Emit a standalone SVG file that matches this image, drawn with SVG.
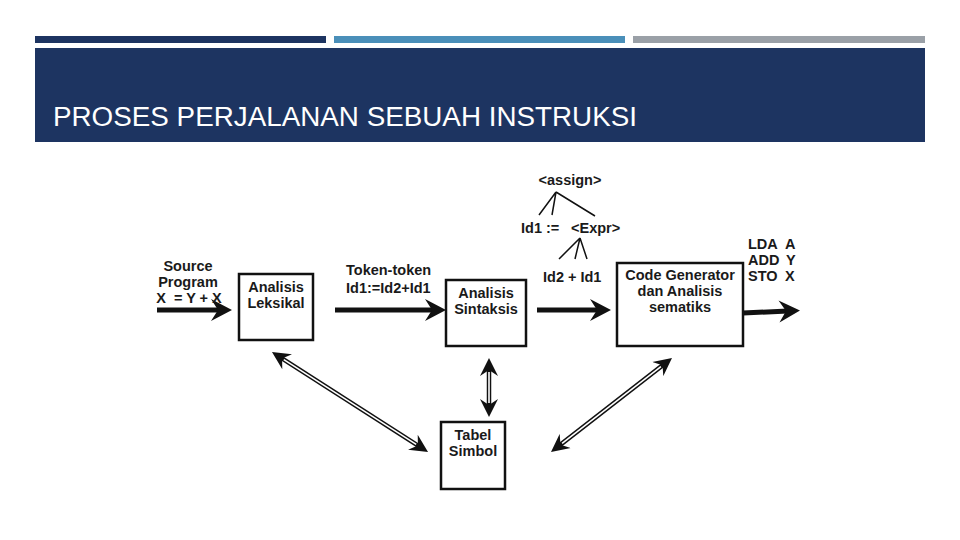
<svg xmlns="http://www.w3.org/2000/svg" width="960" height="540" viewBox="0 0 960 540">
<style>
.t{font-family:"Liberation Sans",Arial,sans-serif;font-weight:bold;font-size:14.5px;fill:#1a1a1a}
.c{text-anchor:middle}
.box{fill:#fff;stroke:#111;stroke-width:2.5}
.thick{stroke:#111;stroke-width:5;fill:none}
.dbl{stroke:#111;stroke-width:4.5;fill:none}
.inner{stroke:#fff;stroke-width:1.6;fill:none}
.tree{stroke:#111;stroke-width:1.5;fill:none}
</style>
<defs>
<marker id="big" markerUnits="userSpaceOnUse" markerWidth="22" markerHeight="24" viewBox="0 -12 22 24" refX="10" refY="0" orient="auto-start-reverse">
<path d="M22,0 L1,-11 L8,0 L1,11 Z" fill="#111"/>
</marker>
<marker id="sm" markerUnits="userSpaceOnUse" markerWidth="18" markerHeight="20" viewBox="0 -10 18 20" refX="8" refY="0" orient="auto-start-reverse">
<path d="M18,0 L0,-9 L6,0 L0,9 Z" fill="#111"/>
</marker>
</defs>
<rect width="960" height="540" fill="#fff"/>
<rect x="35" y="36" width="291" height="7" fill="#1d3461"/>
<rect x="334" y="36" width="291" height="7" fill="#4a8fb9"/>
<rect x="633" y="36" width="292" height="7" fill="#9aa0a7"/>
<rect x="35" y="48" width="890" height="94" fill="#1d3461"/>
<text x="53" y="126" font-family="'Liberation Sans',Arial,sans-serif" font-size="27" fill="#fff" textLength="584" lengthAdjust="spacingAndGlyphs">PROSES PERJALANAN SEBUAH INSTRUKSI</text>

<g id="connectors">
<line class="thick" x1="157" y1="310" x2="220" y2="310" marker-end="url(#big)"/>
<line class="thick" x1="335" y1="310" x2="434" y2="310" marker-end="url(#big)"/>
<line class="thick" x1="537" y1="310" x2="599" y2="310" marker-end="url(#big)"/>
<line class="thick" x1="743" y1="313" x2="788" y2="311" marker-end="url(#big)"/>
<line class="dbl" x1="280.4" y1="357.4" x2="419.6" y2="446.6" marker-start="url(#sm)" marker-end="url(#sm)"/>
<line class="inner" x1="283.8" y1="359.6" x2="416.2" y2="444.4"/>
<line class="dbl" x1="489" y1="368" x2="489" y2="407" marker-start="url(#sm)" marker-end="url(#sm)"/>
<line class="inner" x1="489" y1="372" x2="489" y2="403"/>
<line class="dbl" x1="664.1" y1="364.1" x2="558.9" y2="445.9" marker-start="url(#sm)" marker-end="url(#sm)"/>
<line class="inner" x1="660.9" y1="366.6" x2="562.1" y2="443.4"/>
<path class="tree" d="M556,192 L539,215 M556,192 L552,215 M556,192 L595,216 M580,238 L559,259 M580,238 L575,259 M580,238 L587,259"/>
</g>

<g id="source-label">
<text class="t c" x="188" y="271">Source</text>
<text class="t c" x="188" y="287">Program</text>
<text class="t c" x="189" y="303" xml:space="preserve">X  = Y + X</text>
</g>
<g id="token-label">
<text class="t" x="346" y="275">Token-token</text>
<text class="t" x="346" y="293">Id1:=Id2+Id1</text>
</g>
<g id="parse-tree">
<text class="t c" x="570" y="185">&lt;assign&gt;</text>
<text class="t" x="521" y="233">Id1 :=</text>
<text class="t" x="571" y="233">&lt;Expr&gt;</text>
<text class="t" x="543" y="282">Id2 + Id1</text>
</g>
<g id="output-label">
<text class="t" x="748" y="249">LDA</text>
<text class="t" x="785" y="249">A</text>
<text class="t" x="748" y="265">ADD</text>
<text class="t" x="786" y="265">Y</text>
<text class="t" x="748" y="281">STO</text>
<text class="t" x="785" y="281">X</text>
</g>
<g id="leksikal">
<rect class="box" x="239" y="274" width="74" height="66"/>
<text class="t c" x="276" y="292">Analisis</text>
<text class="t c" x="276" y="308">Leksikal</text>
</g>
<g id="sintaksis">
<rect class="box" x="446" y="280" width="80" height="66"/>
<text class="t c" x="486" y="298">Analisis</text>
<text class="t c" x="486" y="314">Sintaksis</text>
</g>
<g id="codegen">
<rect class="box" x="617" y="263" width="126" height="83"/>
<text class="t c" x="680" y="280">Code Generator</text>
<text class="t c" x="680" y="296">dan Analisis</text>
<text class="t c" x="680" y="312">sematiks</text>
</g>
<g id="tabel">
<rect class="box" x="441" y="422" width="64" height="67"/>
<text class="t c" x="473" y="440">Tabel</text>
<text class="t c" x="473" y="456">Simbol</text>
</g>
</svg>
